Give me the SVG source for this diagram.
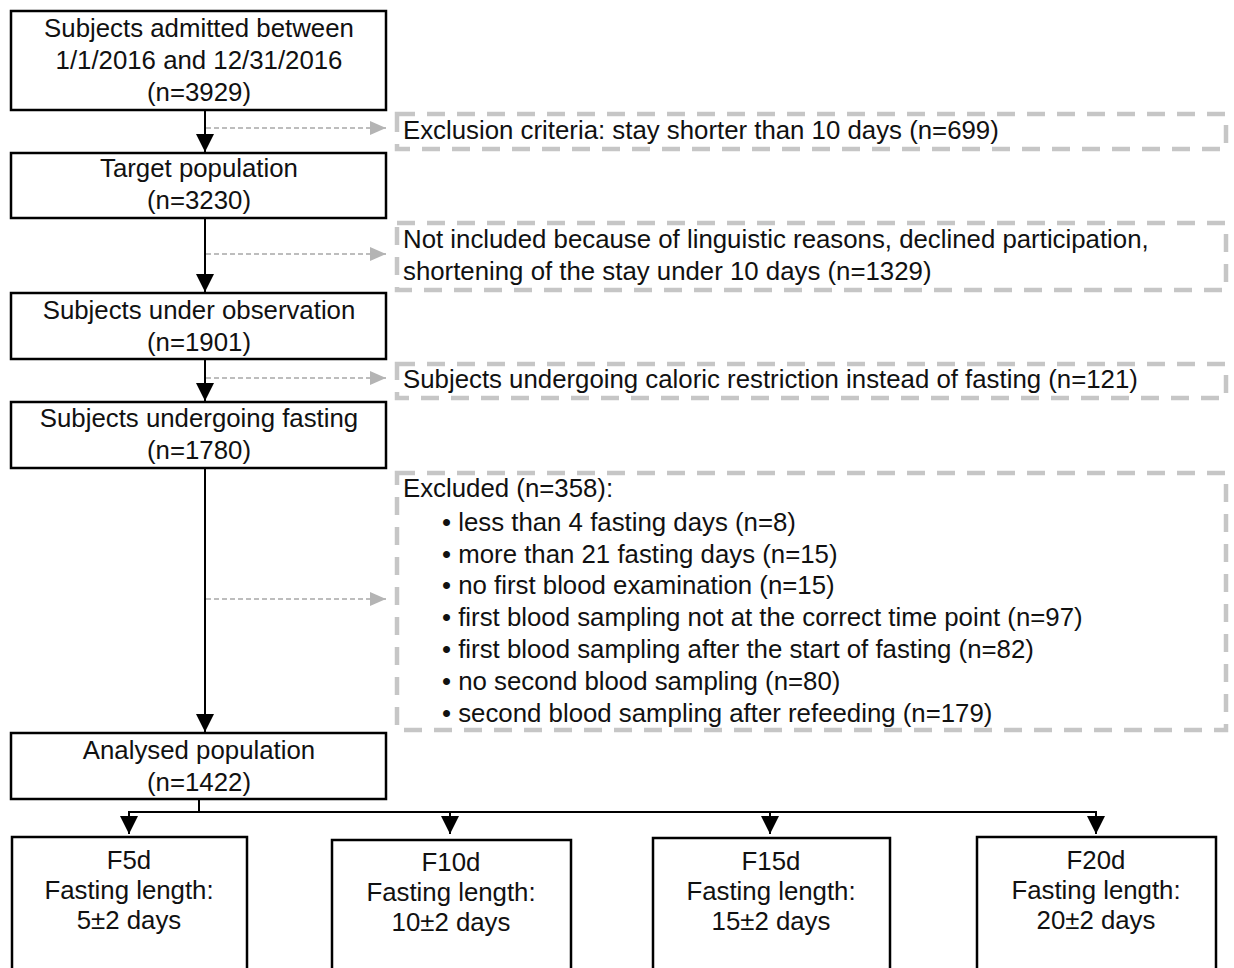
<svg xmlns="http://www.w3.org/2000/svg" width="1234" height="968" viewBox="0 0 1234 968">
<defs>
<marker id="ab" markerUnits="userSpaceOnUse" markerWidth="20" markerHeight="20" refX="18" refY="9" orient="auto"><path d="M0,0 L18,9 L0,18 z" fill="#000"/></marker>
<marker id="ag" markerUnits="userSpaceOnUse" markerWidth="18" markerHeight="16" refX="16" refY="7" orient="auto"><path d="M0,0 L16,7 L0,14 z" fill="#b4b4b4"/></marker>
</defs>
<style>
.box{fill:#fff;stroke:#000;stroke-width:2.5}
.dbox{fill:#fff;stroke:#c6c6c6;stroke-width:4.5;stroke-dasharray:18 12}
text{font-family:"Liberation Sans",Arial,sans-serif;font-size:25.8px;fill:#111}
.c{text-anchor:middle}
.main{stroke:#000;stroke-width:2;fill:none}
.gr{stroke:#a8a8a8;stroke-width:1.5;stroke-dasharray:5 3;fill:none}
</style>
<rect width="1234" height="968" fill="#fff"/>
<g id="connectors">
<line class="main" x1="205" y1="110" x2="205" y2="152" marker-end="url(#ab)"/>
<line class="main" x1="205" y1="218" x2="205" y2="292" marker-end="url(#ab)"/>
<line class="main" x1="205" y1="359" x2="205" y2="401" marker-end="url(#ab)"/>
<line class="main" x1="205" y1="468" x2="205" y2="732" marker-end="url(#ab)"/>
<line class="gr" x1="206" y1="128" x2="386" y2="128" marker-end="url(#ag)"/>
<line class="gr" x1="206" y1="254" x2="386" y2="254" marker-end="url(#ag)"/>
<line class="gr" x1="206" y1="378" x2="386" y2="378" marker-end="url(#ag)"/>
<line class="gr" x1="206" y1="599" x2="386" y2="599" marker-end="url(#ag)"/>
<polyline class="main" points="199,799 199,812"/>
<polyline class="main" points="129,812 1096,812"/>
<line class="main" x1="129" y1="811" x2="129" y2="834" marker-end="url(#ab)"/>
<line class="main" x1="450" y1="811" x2="450" y2="834" marker-end="url(#ab)"/>
<line class="main" x1="770" y1="811" x2="770" y2="834" marker-end="url(#ab)"/>
<line class="main" x1="1096" y1="811" x2="1096" y2="834" marker-end="url(#ab)"/>
</g>
<g id="n1"><rect class="box" x="11" y="11" width="375" height="99"/>
<text class="c" x="199" y="37">Subjects admitted between</text>
<text class="c" x="199" y="69">1/1/2016 and 12/31/2016</text>
<text class="c" x="199" y="101">(n=3929)</text></g>
<g id="n2"><rect class="box" x="11" y="153" width="375" height="65"/>
<text class="c" x="199" y="177">Target population</text>
<text class="c" x="199" y="209">(n=3230)</text></g>
<g id="n3"><rect class="box" x="11" y="293" width="375" height="66"/>
<text class="c" x="199" y="319">Subjects under observation</text>
<text class="c" x="199" y="351">(n=1901)</text></g>
<g id="n4"><rect class="box" x="11" y="402" width="375" height="66"/>
<text class="c" x="199" y="427">Subjects undergoing fasting</text>
<text class="c" x="199" y="459">(n=1780)</text></g>
<g id="n5"><rect class="box" x="11" y="733" width="375" height="66"/>
<text class="c" x="199" y="759">Analysed population</text>
<text class="c" x="199" y="791">(n=1422)</text></g>
<g id="e1"><rect class="dbox" x="397" y="114" width="829" height="35"/>
<text x="403" y="139">Exclusion criteria: stay shorter than 10 days (n=699)</text></g>
<g id="e2"><rect class="dbox" x="397" y="223" width="829" height="67"/>
<text x="403" y="248">Not included because of linguistic reasons, declined participation,</text>
<text x="403" y="280">shortening of the stay under 10 days (n=1329)</text></g>
<g id="e3"><rect class="dbox" x="397" y="364" width="829" height="34"/>
<text x="403" y="388">Subjects undergoing caloric restriction instead of fasting (n=121)</text></g>
<g id="e4"><rect class="dbox" x="397" y="473" width="829" height="257"/>
<text x="403" y="497">Excluded (n=358):</text>
<text x="442" y="531">• less than 4 fasting days (n=8)</text>
<text x="442" y="563">• more than 21 fasting days (n=15)</text>
<text x="442" y="594">• no first blood examination (n=15)</text>
<text x="442" y="626">• first blood sampling not at the correct time point (n=97)</text>
<text x="442" y="658">• first blood sampling after the start of fasting (n=82)</text>
<text x="442" y="690">• no second blood sampling (n=80)</text>
<text x="442" y="722">• second blood sampling after refeeding (n=179)</text></g>
<g id="f5"><rect class="box" x="12" y="837" width="235" height="140"/>
<text class="c" x="129" y="869">F5d</text>
<text class="c" x="129" y="899">Fasting length:</text>
<text class="c" x="129" y="929">5±2 days</text></g>
<g id="f10"><rect class="box" x="332" y="840" width="239" height="140"/>
<text class="c" x="451" y="871">F10d</text>
<text class="c" x="451" y="901">Fasting length:</text>
<text class="c" x="451" y="931">10±2 days</text></g>
<g id="f15"><rect class="box" x="653" y="838" width="237" height="140"/>
<text class="c" x="771" y="870">F15d</text>
<text class="c" x="771" y="900">Fasting length:</text>
<text class="c" x="771" y="930">15±2 days</text></g>
<g id="f20"><rect class="box" x="977" y="837" width="239" height="140"/>
<text class="c" x="1096" y="869">F20d</text>
<text class="c" x="1096" y="899">Fasting length:</text>
<text class="c" x="1096" y="929">20±2 days</text></g>
</svg>
